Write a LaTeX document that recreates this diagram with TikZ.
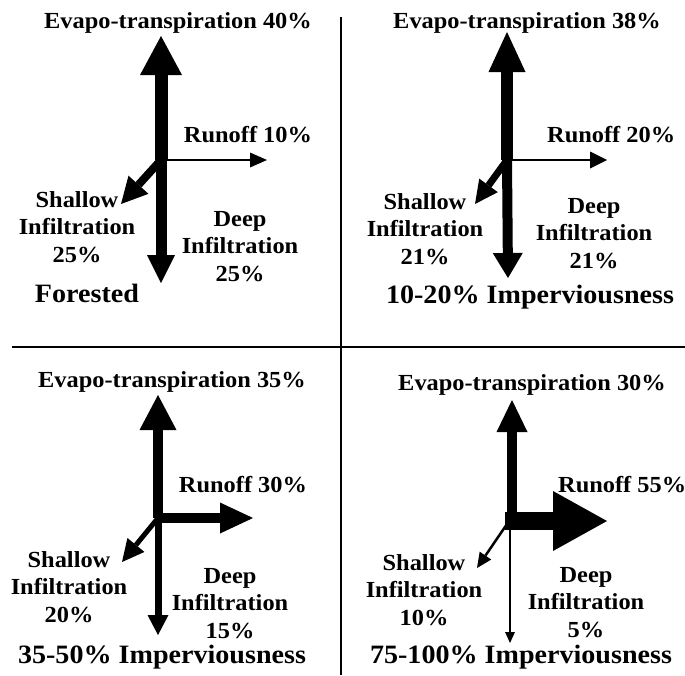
\documentclass[tikz,border=0pt]{standalone}
\usepackage{fontspec}
\setmainfont{Liberation Serif}[FakeStretch=1.06]
\usetikzlibrary{arrows.meta}
\begin{document}
\begin{tikzpicture}[x=1pt,y=-1pt,
  lbl/.style={font=\bfseries\fontsize{23}{27.5}\selectfont, align=center, inner sep=0pt, anchor=base},
  ttl/.style={font=\bfseries\fontsize{26.5}{30}\selectfont, inner sep=0pt, anchor=base},
  arr/.style args={#1/#2/#3}{line width=#1, -{Triangle[length=#2,width=#3,line width=0pt]}},
  divider/.style={line width=2.5pt}]
\useasboundingbox (0,0) rectangle (685,675);
% dividers
\draw[divider] (341,17) -- (341,675);
\draw[divider] (12,347) -- (685,347);

% ---------- Panel 1: Forested ----------
\coordinate (a0) at (161,160);
\coordinate (aE) at (161,36);
\coordinate (aR) at (267,160);
\coordinate (aS) at (121,204);
\coordinate (aD) at (161,283);
\draw[arr=13pt/39pt/42pt] (a0) -- (aE);
\draw[arr=11pt/28pt/28pt] (a0) -- (aD);
\draw[arr=2.5pt/17pt/15pt] (a0) -- (aR);
\draw[arr=8pt/26pt/27pt] (a0) -- (aS);
\node[lbl] (aEt) at (178,28) {Evapo-transpiration 40\%};
\node[lbl] (aRt) at (248,142) {Runoff 10\%};
\node[lbl] (aSt) at (77,262) {Shallow\\Infiltration\\25\%};
\node[lbl] (aDt) at (240,281) {Deep\\Infiltration\\25\%};
\node[ttl] (aT) at (87,302) {Forested};

% ---------- Panel 2: 10-20% ----------
\coordinate (b0) at (507,160);
\coordinate (bE) at (507,32);
\coordinate (bR) at (607,160);
\coordinate (bS) at (475,204);
\coordinate (bD) at (508,278);
\draw[arr=12pt/40pt/37pt] (b0) -- (bE);
\draw[arr=10pt/25pt/30pt] (b0) -- (bD);
\draw[arr=2.5pt/17pt/17pt] (b0) -- (bR);
\draw[arr=7pt/23pt/23pt] (b0) -- (bS);
\node[lbl] (bEt) at (527,28) {Evapo-transpiration 38\%};
\node[lbl, anchor=base west] (bRt) at (547,142) {Runoff 20\%};
\node[lbl] (bSt) at (425,264) {Shallow\\Infiltration\\21\%};
\node[lbl] (bDt) at (594,268) {Deep\\Infiltration\\21\%};
\node[ttl] (bT) at (530,303) {10-20\% Imperviousness};

% ---------- Panel 3: 35-50% ----------
\coordinate (c0) at (158,518);
\coordinate (cE) at (158,395);
\coordinate (cR) at (253,518);
\coordinate (cS) at (122,562);
\coordinate (cD) at (158,635);
\draw[arr=10pt/35pt/37pt] (c0) -- (cE);
\draw[arr=10pt/33pt/31pt] (c0) -- (cR);
\draw[arr=7pt/20pt/21pt] (c0) -- (cD);
\draw[arr=5pt/22pt/22pt] (c0) -- (cS);
\node[lbl] (cEt) at (172,387) {Evapo-transpiration 35\%};
\node[lbl] (cRt) at (243,492) {Runoff 30\%};
\node[lbl] (cSt) at (69,622) {Shallow\\Infiltration\\20\%};
\node[lbl] (cDt) at (230,638) {Deep\\Infiltration\\15\%};
\node[ttl] (cT) at (162,663) {35-50\% Imperviousness};

% ---------- Panel 4: 75-100% ----------
\coordinate (dU0) at (512,530);
\coordinate (dE) at (512,400);
\coordinate (dR0) at (505,521);
\coordinate (dR) at (607,521);
\coordinate (dS0) at (507,524);
\coordinate (dS) at (477,568);
\coordinate (dD0) at (510,524);
\coordinate (dD) at (510,643);
\draw[arr=10pt/32pt/31pt] (dU0) -- (dE);
\draw[arr=18pt/54pt/60pt] (dR0) -- (dR);
\draw[arr=2.5pt/15pt/14pt] (dS0) -- (dS);
\draw[arr=1.5pt/11pt/10pt] (dD0) -- (dD);
\node[lbl] (dEt) at (532,390) {Evapo-transpiration 30\%};
\node[lbl, anchor=base west] (dRt) at (558,492) {Runoff 55\%};
\node[lbl] (dSt) at (424,625) {Shallow\\Infiltration\\10\%};
\node[lbl] (dDt) at (586,637) {Deep\\Infiltration\\5\%};
\node[ttl] (dT) at (521,663) {75-100\% Imperviousness};
\end{tikzpicture}
\end{document}
